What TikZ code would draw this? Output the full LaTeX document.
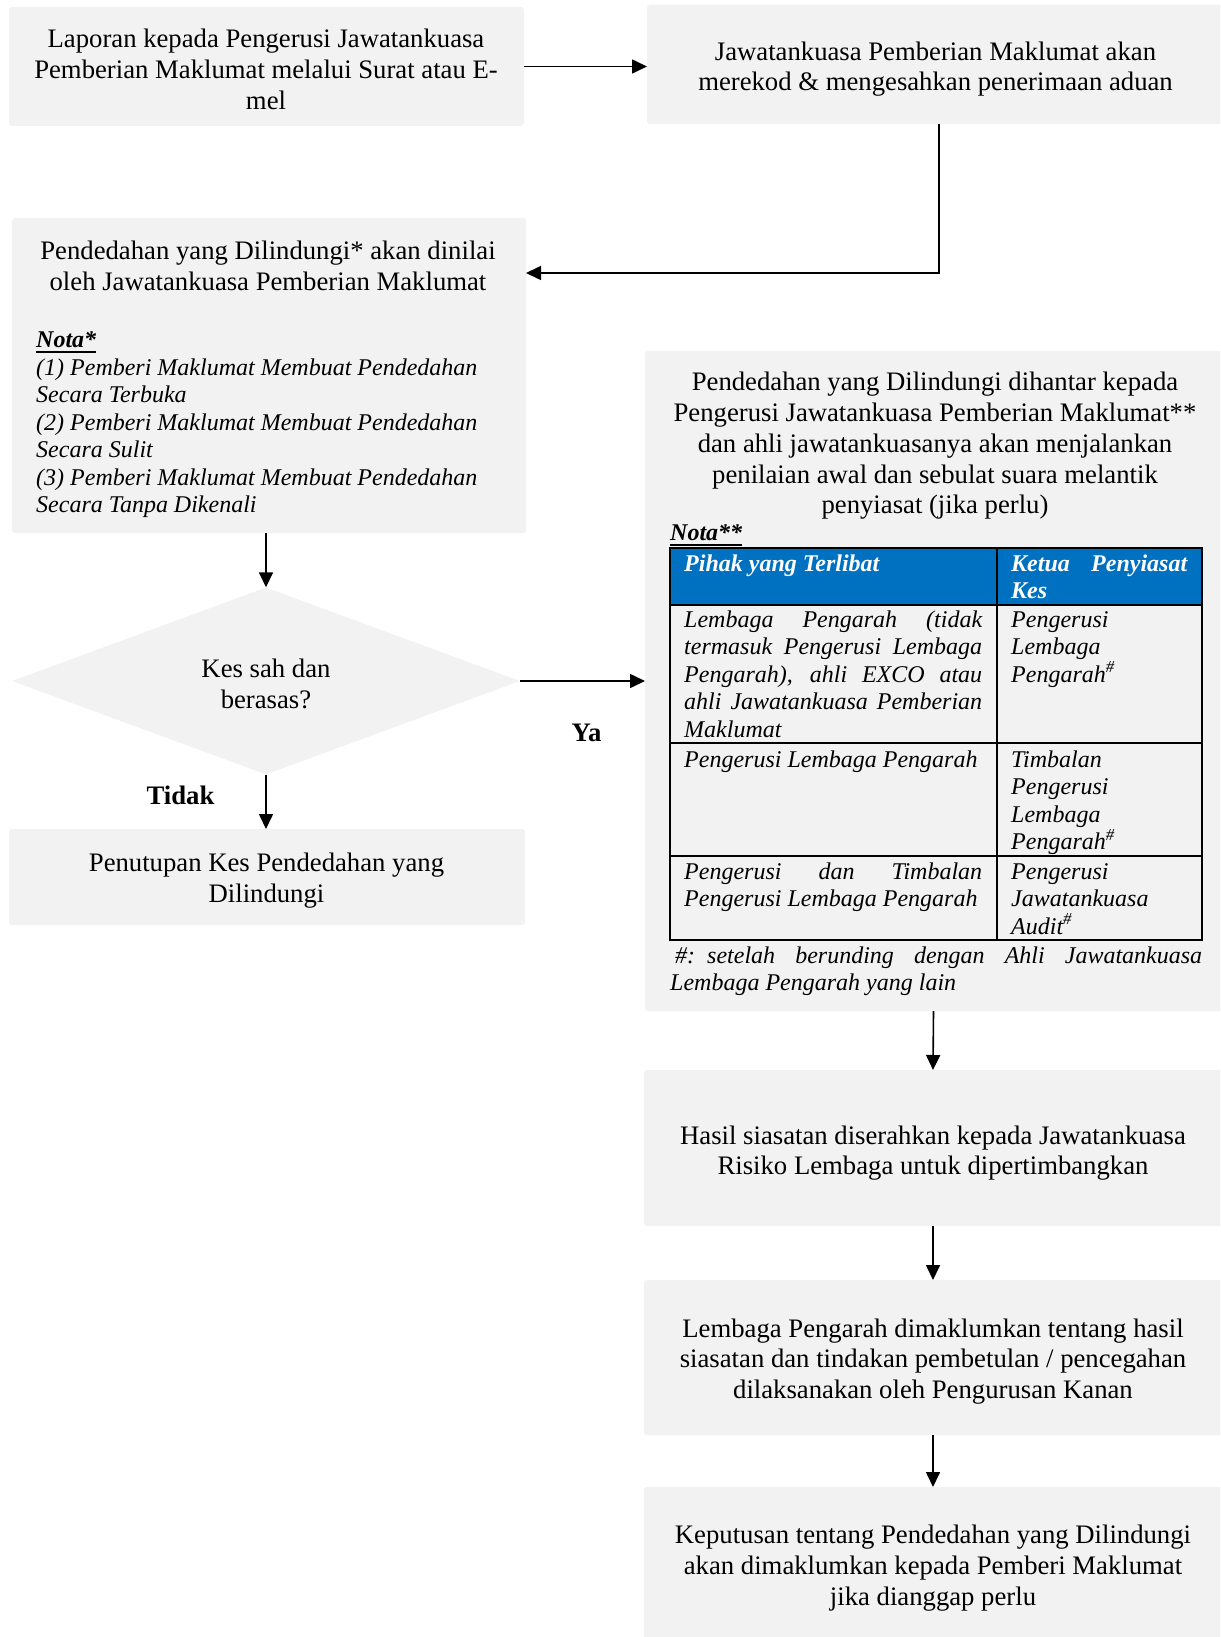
\documentclass[tikz,border=0pt]{standalone}
\usepackage{fontspec}
\setmainfont{Liberation Serif}
\usetikzlibrary{arrows.meta,shapes.geometric}
\definecolor{boxgray}{HTML}{F2F2F2}
\definecolor{hdrblue}{HTML}{0070C0}
\newcommand{\mainsz}{\fontsize{26.7pt}{30.7pt}\selectfont}
\newcommand{\notesz}{\fontsize{24pt}{27.5pt}\selectfont}
\newcommand{\jline}[2]{\makebox[#1][s]{#2}}
\newcommand{\hsup}{\textsuperscript{\#}}
\tikzset{
  box/.style={rectangle, fill=boxgray, rounded corners=3pt, inner sep=0pt, outer sep=0pt},
  txt/.style={inner sep=0pt, align=center, font=\mainsz},
  note/.style={inner sep=0pt, font=\notesz\itshape, anchor=base west},
  arr/.style={line width=1.6pt, -{Triangle[length=15pt,width=14pt]}},
  tbl/.style={line width=1.6pt},
}
\begin{document}
\begin{tikzpicture}[x=1pt,y=-1pt]
\useasboundingbox (0,0) rectangle (1220,1637);
\begin{scope}
\clip (0,0) rectangle (1220,1637);
% boxes
\node[box, minimum width=515pt, minimum height=119pt] (b1) at (266.5,66.5) {};
\node[box, minimum width=575pt, minimum height=119pt] (b2) at (934.5,64.5) {};
\node[box, minimum width=514pt, minimum height=315pt] (b3) at (269,375.5) {};
\node[diamond, fill=boxgray, inner sep=0pt, minimum width=508pt, minimum height=187pt] (dia) at (266,681) {};
\node[box, minimum width=516pt, minimum height=96pt] (bc) at (267,877) {};
\node[box, minimum width=577pt, minimum height=660pt] (b4) at (933.5,681) {};
\node[box, minimum width=578pt, minimum height=156pt] (b5) at (933,1148) {};
\node[box, minimum width=578pt, minimum height=155pt] (b6) at (933,1357.5) {};
\node[box, minimum width=578pt, minimum height=152pt] (b7) at (933,1563) {};
\end{scope}

% box texts
\node[txt] (t1) at (266,69.5) {Laporan kepada Pengerusi Jawatankuasa\\Pemberian Maklumat melalui Surat atau E-\\mel};
\node[txt] (t2) at (935.5,69) {Jawatankuasa Pemberian Maklumat akan\\merekod \& mengesahkan penerimaan aduan};
\node[txt] (t3) at (268,266) {Pendedahan yang Dilindungi* akan dinilai\\oleh Jawatankuasa Pemberian Maklumat};
\node[txt] (td) at (266,684) {Kes sah dan\\berasas?};
\node[txt] (tc) at (266.5,880.5) {Penutupan Kes Pendedahan yang\\Dilindungi};
\node[txt] (t4) at (935,446) {Pendedahan yang Dilindungi dihantar kepada\\Pengerusi Jawatankuasa Pemberian Maklumat**\\dan ahli jawatankuasanya akan menjalankan\\penilaian awal dan sebulat suara melantik\\penyiasat (jika perlu)};
\node[txt] (t5) at (933,1153) {Hasil siasatan diserahkan kepada Jawatankuasa\\Risiko Lembaga untuk dipertimbangkan};
\node[txt] (t6) at (933,1361.5) {Lembaga Pengarah dimaklumkan tentang hasil\\siasatan dan tindakan pembetulan / pencegahan\\dilaksanakan oleh Pengurusan Kanan};
\node[txt] (t7) at (933,1568) {Keputusan tentang Pendedahan yang Dilindungi\\akan dimaklumkan kepada Pemberi Maklumat\\jika dianggap perlu};

% Nota* in box 3
\node[note, font=\notesz\bfseries\itshape] (nota1) at (36,347) {Nota*};
\draw[line width=1.8pt] ([yshift=-5pt]nota1.base west) -- ([yshift=-5pt]nota1.base east);
\node[note] (nlist) at (36,375) {\vtop{\hbox{(1) Pemberi Maklumat Membuat Pendedahan}\hbox{Secara Terbuka}\hbox{(2) Pemberi Maklumat Membuat Pendedahan}\hbox{Secara Sulit}\hbox{(3) Pemberi Maklumat Membuat Pendedahan}\hbox{Secara Tanpa Dikenali}}};

% Nota** and table in box 4
\node[note, font=\notesz\bfseries\itshape] (nota2) at (670,540) {Nota**};
\draw[line width=1.8pt] ([yshift=-5pt]nota2.base west) -- ([yshift=-5pt]nota2.base east);
\fill[hdrblue] (670,548) rectangle (1202,605);
\draw[tbl] (670,548) rectangle (1202,940);
\draw[tbl] (997,548) -- (997,940);
\draw[tbl] (670,605) -- (1202,605);
\draw[tbl] (670,743) -- (1202,743);
\draw[tbl] (670,856) -- (1202,856);
\node[note, font=\notesz\bfseries\itshape, text=white] (h1) at (684,571) {Pihak yang Terlibat};
\node[note, font=\notesz\bfseries\itshape, text=white] (h2) at (1011,571) {\vtop{\hbox{\jline{176pt}{Ketua Penyiasat}}\hbox{Kes}}};
\node[note] (r1a) at (684,627) {\vtop{\hbox{\jline{298pt}{Lembaga Pengarah (tidak}}\hbox{\jline{298pt}{termasuk Pengerusi Lembaga}}\hbox{\jline{298pt}{Pengarah), ahli EXCO atau}}\hbox{\jline{298pt}{ahli Jawatankuasa Pemberian}}\hbox{Maklumat}}};
\node[note] (r1b) at (1011,627) {\vtop{\hbox{Pengerusi}\hbox{Lembaga}\hbox{Pengarah\hsup}}};
\node[note] (r2a) at (684,767) {Pengerusi Lembaga Pengarah};
\node[note] (r2b) at (1011,767) {\vtop{\hbox{Timbalan}\hbox{Pengerusi}\hbox{Lembaga}\hbox{Pengarah\hsup}}};
\node[note] (r3a) at (684,879) {\vtop{\hbox{\jline{298pt}{Pengerusi dan Timbalan}}\hbox{Pengerusi Lembaga Pengarah}}};
\node[note] (r3b) at (1011,879) {\vtop{\hbox{Pengerusi}\hbox{Jawatankuasa}\hbox{Audit\hsup}}};
\node[note] (fn) at (670,963) {\vtop{\hbox{\kern5pt\#:\kern 12pt\jline{495pt}{setelah berunding dengan Ahli Jawatankuasa}}\hbox{Lembaga Pengarah yang lain}}};

% labels
\node[inner sep=0pt, font=\mainsz\bfseries] (ya) at (586.5,733) {Ya};
\node[inner sep=0pt, font=\mainsz\bfseries] (tidak) at (180.5,795) {Tidak};

% connectors
\coordinate (elbow) at (939,273);
\draw[arr] (b1.east) -- (b1.east -| b2.west);
\draw[arr] (b2.south -| elbow) -- (elbow) -- (elbow -| b3.east);
\draw[arr] (b3.south -| dia.north) -- (dia.north);
\draw[arr] (dia.east) -- (dia.east -| b4.west);
\draw[arr] (dia.south) -- (dia.south |- bc.north);
\draw[arr] (b4.south) -- (b5.north);
\draw[arr] (b5.south) -- (b6.north);
\draw[arr] (b6.south) -- (b7.north);
\end{tikzpicture}
\end{document}
